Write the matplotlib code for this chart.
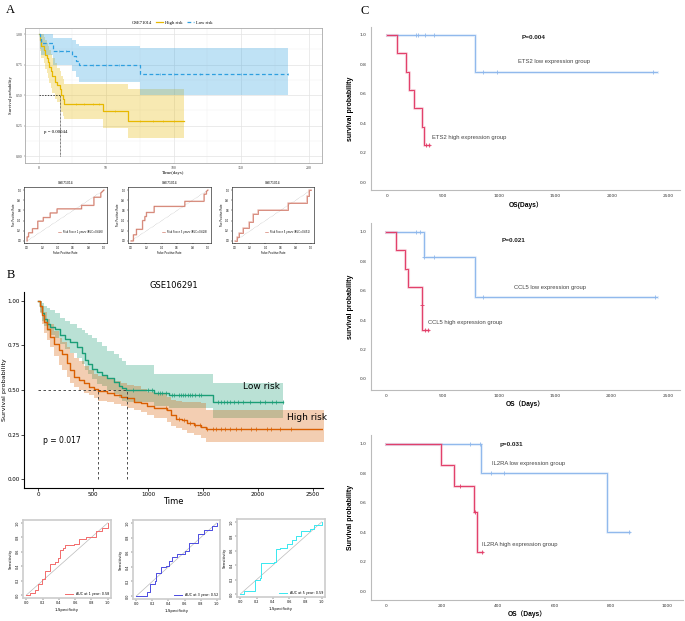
import numpy as np
import matplotlib
matplotlib.use("Agg")
import matplotlib.pyplot as plt
from matplotlib.lines import Line2D

# ---------------- data: panel A (GSE71014) ----------------
a_high_t = [0, 1, 2, 4, 5, 6, 7, 8, 9, 10, 12, 14, 16, 17, 18, 19, 48, 66, 108]
a_high_s = [1.0, 0.95, 0.90, 0.87, 0.83, 0.80, 0.77, 0.73, 0.70, 0.66, 0.61, 0.58, 0.55, 0.50, 0.47, 0.43, 0.37, 0.29, 0.29]
a_high_lo = [1.0, 0.86, 0.80, 0.76, 0.71, 0.68, 0.64, 0.60, 0.56, 0.52, 0.47, 0.44, 0.40, 0.36, 0.33, 0.30, 0.23, 0.15, 0.15]
a_high_hi = [1.0, 1.0, 1.0, 0.98, 0.95, 0.93, 0.90, 0.87, 0.84, 0.80, 0.76, 0.72, 0.70, 0.66, 0.63, 0.59, 0.59, 0.55, 0.55]
a_high_cens = [28, 34, 40, 45, 57, 75, 85, 92, 100]

a_low_t = [0, 1, 2, 11, 25, 28, 30, 75, 185]
a_low_s = [1.0, 0.96, 0.926, 0.86, 0.82, 0.78, 0.75, 0.67, 0.67]
a_low_lo = [1.0, 0.88, 0.83, 0.75, 0.70, 0.65, 0.61, 0.50, 0.50]
a_low_hi = [1.0, 1.0, 1.0, 0.97, 0.95, 0.92, 0.90, 0.885, 0.885]
a_low_cens = [15, 20, 40, 50, 60, 90, 100, 120, 150, 185]
a_median = 16

# ROC curves for GSE71014 (fpr, tpr)
a_roc1_x = [0, 0.0, 0.02, 0.02, 0.07, 0.07, 0.14, 0.14, 0.21, 0.21, 0.30, 0.30, 0.39, 0.39, 0.71, 0.71, 0.87, 0.87, 0.96, 0.96, 1.0]
a_roc1_y = [0, 0.08, 0.08, 0.16, 0.16, 0.24, 0.24, 0.39, 0.39, 0.46, 0.46, 0.55, 0.55, 0.63, 0.63, 0.70, 0.70, 0.86, 0.86, 0.94, 1.0]
a_roc2_x = [0, 0.03, 0.03, 0.07, 0.07, 0.15, 0.15, 0.18, 0.18, 0.20, 0.20, 0.30, 0.30, 0.70, 0.70, 0.95, 0.95, 0.98, 0.98, 1.0]
a_roc2_y = [0, 0.0, 0.12, 0.12, 0.23, 0.23, 0.40, 0.40, 0.48, 0.48, 0.56, 0.56, 0.68, 0.68, 0.78, 0.78, 0.92, 0.92, 0.97, 1.0]
a_roc3_x = [0, 0.02, 0.02, 0.05, 0.05, 0.10, 0.10, 0.18, 0.18, 0.23, 0.23, 0.30, 0.30, 0.70, 0.70, 0.95, 0.95, 0.98, 0.98, 1.0]
a_roc3_y = [0, 0.0, 0.08, 0.08, 0.16, 0.16, 0.26, 0.26, 0.37, 0.37, 0.52, 0.52, 0.61, 0.61, 0.75, 0.75, 0.88, 0.88, 1.0, 1.0]
a_roc_labels = ["Risk Score 1 years (AUC=0.646)", "Risk Score 3 years (AUC=0.628)", "Risk Score 5 years (AUC=0.651)"]

# ---------------- data: panel B (GSE106291) ----------------
b_low_t = [0, 21, 36, 52, 82, 112, 158, 204, 249, 295, 356, 401, 432, 453, 492, 538, 584, 629, 690, 736, 766, 796, 1055, 1192, 1587, 2225]
b_low_s = [1.0, 0.97, 0.93, 0.90, 0.87, 0.856, 0.84, 0.81, 0.785, 0.77, 0.74, 0.71, 0.67, 0.646, 0.62, 0.60, 0.585, 0.566, 0.547, 0.52, 0.51, 0.50, 0.485, 0.472, 0.43, 0.43]
b_low_hi = [1.0, 1.0, 0.99, 0.97, 0.96, 0.95, 0.93, 0.905, 0.89, 0.87, 0.85, 0.835, 0.82, 0.81, 0.79, 0.77, 0.745, 0.72, 0.70, 0.68, 0.66, 0.64, 0.59, 0.59, 0.54, 0.54]
b_low_lo = [1.0, 0.94, 0.89, 0.86, 0.83, 0.81, 0.79, 0.76, 0.73, 0.71, 0.68, 0.645, 0.61, 0.59, 0.56, 0.535, 0.52, 0.50, 0.48, 0.455, 0.44, 0.43, 0.41, 0.40, 0.345, 0.345]
b_low_cens = [862, 1000, 1040, 1090, 1110, 1130, 1160, 1215, 1240, 1280, 1300, 1320, 1340, 1360, 1380,
              1400, 1430, 1460, 1480, 1640, 1660, 1690, 1720, 1750, 1780, 1820, 1860, 1930, 2020, 2060, 2130, 2160, 2225]

b_high_t = [0, 21, 36, 52, 82, 112, 143, 188, 219, 264, 295, 325, 371, 416, 462, 508, 545, 629, 690, 751, 812, 872,
            933, 994, 1055, 1176, 1207, 1252, 1313, 1359, 1420, 1480, 1526, 2605]
b_high_s = [1.0, 0.97, 0.92, 0.88, 0.84, 0.80, 0.76, 0.725, 0.70, 0.65, 0.61, 0.575, 0.556, 0.537, 0.519, 0.504, 0.496,
            0.485, 0.472, 0.463, 0.453, 0.434, 0.425, 0.41, 0.397, 0.388, 0.36, 0.34, 0.33, 0.316, 0.303, 0.29, 0.281, 0.281]
b_high_hi = [1.0, 1.0, 0.97, 0.94, 0.90, 0.87, 0.83, 0.79, 0.77, 0.74, 0.71, 0.68, 0.66, 0.635, 0.61, 0.59, 0.58,
             0.565, 0.55, 0.54, 0.53, 0.52, 0.505, 0.49, 0.475, 0.46, 0.445, 0.44, 0.435, 0.43, 0.43, 0.425, 0.39, 0.39]
b_high_lo = [1.0, 0.93, 0.87, 0.82, 0.78, 0.74, 0.69, 0.64, 0.61, 0.575, 0.54, 0.515, 0.50, 0.485, 0.47, 0.455, 0.44,
             0.43, 0.42, 0.41, 0.40, 0.39, 0.375, 0.36, 0.345, 0.32, 0.30, 0.285, 0.275, 0.26, 0.245, 0.23, 0.21, 0.21]
b_high_cens = [1160, 1280, 1330, 1380, 1430, 1470, 1540, 1590, 1620, 1660, 1700, 1750, 1800, 1850, 1940, 1980, 2080, 2120, 2200, 2300]
b_medians = [545, 812]

b_roc1_x = [0, 0.05, 0.11, 0.15, 0.19, 0.23, 0.29, 0.35, 0.39, 0.42, 0.45, 0.47, 0.59, 0.65, 0.73, 0.85, 0.93, 1.0]
b_roc1_y = [0, 0.03, 0.07, 0.16, 0.23, 0.34, 0.43, 0.46, 0.52, 0.63, 0.65, 0.69, 0.71, 0.78, 0.80, 0.89, 0.93, 1.0]
b_roc2_x = [0, 0.13, 0.17, 0.23, 0.25, 0.31, 0.37, 0.41, 0.45, 0.51, 0.60, 0.66, 0.72, 0.77, 0.84, 0.94, 1.0]
b_roc2_y = [0, 0.055, 0.17, 0.21, 0.31, 0.40, 0.41, 0.48, 0.54, 0.57, 0.62, 0.72, 0.72, 0.85, 0.91, 0.96, 1.0]
b_roc3_x = [0, 0.05, 0.05, 0.18, 0.18, 0.24, 0.26, 0.42, 0.44, 0.49, 0.57, 0.63, 0.69, 0.75, 0.86, 0.90, 1.0]
b_roc3_y = [0, 0.0, 0.05, 0.07, 0.19, 0.23, 0.43, 0.45, 0.62, 0.64, 0.69, 0.75, 0.80, 0.87, 0.90, 0.96, 1.0]
b_roc_labels = ["AUC at 1 year: 0.58", "AUC at 3 year: 0.52", "AUC at 5 year: 0.59"]
b_roc_colors = ["#F26B6B", "#4A4AE0", "#37E8F0"]

# ---------------- data: panel C ----------------
c1_low_t = [0, 779, 2400]
c1_low_s = [1.0, 0.75, 0.75]
c1_low_cens = [259, 279, 338, 421, 853, 979, 2368]
c1_high_t = [0, 88, 168, 197, 241, 309, 332, 371]
c1_high_s = [1.0, 0.875, 0.75, 0.625, 0.5, 0.375, 0.25, 0.25]
c1_high_cens = [347, 371]

c2_low_t = [0, 338, 785, 2400]
c2_low_s = [1.0, 0.833, 0.556, 0.556]
c2_low_cens = [265, 300, 338, 426, 859, 2388]
c2_high_t = [0, 88, 168, 197, 315, 323, 374]
c2_high_s = [1.0, 0.875, 0.75, 0.625, 0.5, 0.333, 0.333]
c2_high_cens = [318, 344, 374]

c3_low_t = [0, 339, 787, 865]
c3_low_s = [1.0, 0.8, 0.4, 0.4]
c3_low_cens = [300, 335, 374, 421, 865]
c3_high_t = [0, 196, 244, 315, 324, 342]
c3_high_s = [1.0, 0.857, 0.714, 0.536, 0.268, 0.268]
c3_high_cens = [265, 318, 342]

W, H = 685, 621
fig = plt.figure(figsize=(W / 100, H / 100), dpi=100)


def px_axes(left, top, right, bottom):
    return fig.add_axes([left / W, 1 - bottom / H, (right - left) / W, (bottom - top) / H])


def surv_at(t, s, c):
    idx = np.searchsorted(np.array(t), np.array(c), side="right") - 1
    return np.array(s)[idx]


SERIF = "Liberation Serif"
SANS = "Liberation Sans"

# ================= Panel A =================
fig.text(6 / W, 1 - 13 / H, "A", fontsize=9, family=SERIF)
ax = px_axes(25, 28, 322, 163)
yel, blu = "#E7B800", "#2E9FDF"
ax.fill_between(a_high_t, a_high_lo, a_high_hi, step="post", color=yel, alpha=0.3, lw=0)
ax.fill_between(a_low_t, a_low_lo, a_low_hi, step="post", color=blu, alpha=0.3, lw=0)
ax.step(a_high_t, a_high_s, where="post", color=yel, lw=0.9)
ax.step(a_low_t, a_low_s, where="post", color=blu, lw=0.9, ls=(0, (3, 2)))
ax.plot(a_high_cens, surv_at(a_high_t, a_high_s, a_high_cens), "|", color=yel, ms=2, mew=0.4)
ax.plot(a_low_cens, surv_at(a_low_t, a_low_s, a_low_cens), "|", color=blu, ms=2, mew=0.4)
ax.plot([0, a_median], [0.5, 0.5], color="black", lw=0.5, ls=(0, (2, 2)))
ax.plot([a_median, a_median], [0, 0.5], color="black", lw=0.5, ls=(0, (1, 1)))
ax.text(4, 0.19, "p = 0.00044", fontsize=3.5, family=SERIF)
ax.set_xlim(-10, 210)
ax.set_ylim(-0.057, 1.05)
ax.set_xticks([0, 50, 100, 150, 200])
ax.set_yticks([0, 0.25, 0.5, 0.75, 1.0])
ax.set_yticklabels(["0.00", "0.25", "0.50", "0.75", "1.00"])
ax.set_xticks([25, 75, 125, 175], minor=True)
ax.set_yticks([0.125, 0.375, 0.625, 0.875], minor=True)
ax.grid(True, which="major", color="#e3e3e3", lw=0.5)
ax.grid(True, which="minor", color="#f0f0f0", lw=0.3)
ax.tick_params(labelsize=2.8, length=1, width=0.3, colors="#444444", pad=1)
ax.tick_params(which="minor", length=0)
for lab in ax.get_xticklabels() + ax.get_yticklabels():
    lab.set_family(SERIF)
for sp in ax.spines.values():
    sp.set_color("#aaaaaa")
    sp.set_linewidth(0.6)
ax.set_axisbelow(True)
ax.set_xlabel("Time(days)", fontsize=3.5, family=SERIF, labelpad=1)
ax.set_ylabel("Survival probability", fontsize=3.3, family=SERIF, labelpad=2)
handles = [Line2D([], [], color="none"),
           Line2D([], [], color=yel, lw=0.9),
           Line2D([], [], color=blu, lw=0.9, ls=(0, (3, 2)))]
ax.legend(handles, ["GSE71014", "High risk", "Low risk"], loc="lower center", bbox_to_anchor=(0.48, 1.0),
          ncol=3, frameon=False, prop={"family": SERIF, "size": 3.3}, handlelength=1.5,
          handletextpad=0.4, columnspacing=1.0, borderaxespad=0.3)

# panel A ROC
roc_a = [(a_roc1_x, a_roc1_y), (a_roc2_x, a_roc2_y), (a_roc3_x, a_roc3_y)]
boxes_a = [(24, 187, 107, 243), (128, 187, 211, 243), (232, 187, 314, 243)]
for (xs, ys), box, lab in zip(roc_a, boxes_a, a_roc_labels):
    ax = px_axes(*box)
    ax.plot([0, 1], [0, 1], color="#aaaaaa", lw=0.4, ls=(0, (1, 1.5)))
    ax.plot(xs, ys, color="#D98C7C", lw=1.2, alpha=0.5)
    ax.plot(xs, ys, color="#C8604C", lw=0.4, label=lab)
    ax.set_xlim(-0.04, 1.04)
    ax.set_ylim(-0.04, 1.06)
    ax.set_xticks(np.arange(0, 1.01, 0.2))
    ax.set_yticks(np.arange(0, 1.01, 0.2))
    ax.tick_params(labelsize=1.8, length=1, width=0.3, pad=1)
    for sp in ax.spines.values():
        sp.set_linewidth(0.4)
    ax.set_title("GSE71014", fontsize=2.2, pad=2)
    ax.set_xlabel("False Positive Rate", fontsize=1.9, labelpad=1)
    ax.set_ylabel("True Positive Rate", fontsize=1.9, labelpad=1)
    ax.legend(loc="lower right", bbox_to_anchor=(0.98, 0.12), fontsize=1.8, frameon=False,
              handlelength=1.2)

# ================= Panel B =================
fig.text(7 / W, 1 - 278 / H, "B", fontsize=9, family=SERIF)
ax = px_axes(24, 292, 323, 488)
teal, orng = "#1B9E77", "#D95F02"
ax.fill_between(b_low_t, b_low_lo, b_low_hi, step="post", color=teal, alpha=0.3, lw=0)
ax.fill_between(b_high_t, b_high_lo, b_high_hi, step="post", color=orng, alpha=0.3, lw=0)
ax.step(b_low_t, b_low_s, where="post", color=teal, lw=1)
ax.step(b_high_t, b_high_s, where="post", color=orng, lw=1)
ax.plot(b_low_cens, surv_at(b_low_t, b_low_s, b_low_cens), "|", color=teal, ms=3, mew=0.5)
ax.plot(b_high_cens, surv_at(b_high_t, b_high_s, b_high_cens), "|", color=orng, ms=3, mew=0.5)
ax.plot([0, max(b_medians)], [0.5, 0.5], color="#333333", lw=0.6, ls=(0, (3, 3)))
for m in b_medians:
    ax.plot([m, m], [0, 0.5], color="#333333", lw=0.6, ls=(0, (3, 3)))
ax.text(50, 0.2, "p = 0.017", fontsize=5.5)
ax.text(2030, 0.495, "Low risk", fontsize=6.5, ha="center", va="bottom")
ax.text(2450, 0.32, "High risk", fontsize=6.5, ha="center", va="bottom")
ax.set_xlim(-127, 2591)
ax.set_ylim(-0.05, 1.05)
ax.set_xticks([0, 500, 1000, 1500, 2000, 2500])
ax.set_yticks([0, 0.25, 0.5, 0.75, 1.0])
ax.set_yticklabels(["0.00", "0.25", "0.50", "0.75", "1.00"])
ax.tick_params(labelsize=4.1, length=2, width=0.5, pad=1.2)
ax.spines[["top", "right"]].set_visible(False)
ax.set_title("GSE106291", fontsize=6, pad=3)
ax.set_xlabel("Time", fontsize=6, labelpad=0)
ax.set_ylabel("Survival probability", fontsize=4.6, va="center")
ax.yaxis.set_label_coords((4.5 - 24) / 299, 0.5)

roc_b = [(b_roc1_x, b_roc1_y), (b_roc2_x, b_roc2_y), (b_roc3_x, b_roc3_y)]
boxes_b = [(23, 520, 111, 598), (133, 520, 220, 599), (237, 519, 325, 597)]
for (xs, ys), box, lab, col in zip(roc_b, boxes_b, b_roc_labels, b_roc_colors):
    ax = px_axes(*box)
    ax.plot([0, 1], [0, 1], color="#bbbbbb", lw=0.5)
    ax.step(xs, ys, where="post", color=col, lw=0.7, label=lab)
    ax.set_xlim(-0.04, 1.04)
    ax.set_ylim(-0.04, 1.04)
    ax.set_xticks(np.arange(0, 1.01, 0.2))
    ax.set_yticks(np.arange(0, 1.01, 0.2))
    ax.tick_params(labelsize=2.4, length=1.2, width=0.3, pad=1)
    for lab_t in ax.get_yticklabels():
        lab_t.set_rotation(90)
        lab_t.set_va("center")
    for sp in ax.spines.values():
        sp.set_color("#cccccc")
        sp.set_linewidth(1.2)
    ax.set_xlabel("1-Specificity", fontsize=2.8, labelpad=2)
    ax.set_ylabel("Sensitivity", fontsize=2.8, labelpad=2)
    ax.legend(loc="lower right", fontsize=2.4, frameon=False, handlelength=2.5, borderaxespad=0.2)

# ================= Panel C =================
fig.text(361 / W, 1 - 14 / H, "C", fontsize=9, family=SERIF)
red, lblue = "#E23D68", "#8FB8EC"
CJK = [SANS, "Noto Sans CJK SC"]


def spss_km(box, xlim, ylim, xticks, low, high, texts, ylabel, xlabel, xlab_top):
    ax = px_axes(*box)
    for (t, s, cens), col in ((low, lblue), (high, red)):
        ax.step(t, s, where="post", color=col, lw=2.2, alpha=0.25)
        ax.step(t, s, where="post", color=col, lw=0.7)
        ax.plot(cens, surv_at(t, s, cens), "+", color=col, ms=3, mew=0.6)
    for x, y, txt, bold in texts:
        ax.text(x, y, txt, fontsize=4.6 if bold else 4.2, fontweight="bold" if bold else "normal",
                family=SANS, va="center", color="#222222" if bold else "#444444")
    ax.set_xlim(*xlim)
    ax.set_ylim(*ylim)
    ax.set_xticks(xticks)
    ax.set_yticks(np.arange(0, 1.01, 0.2))
    ax.set_yticklabels([f"{v:.1f}" for v in np.arange(0, 1.01, 0.2)])
    ax.tick_params(labelsize=3.2, length=0, pad=3, colors="#333333")
    ax.spines[["top", "right"]].set_visible(False)
    for sp in ("left", "bottom"):
        ax.spines[sp].set_color("#bbbbbb")
        ax.spines[sp].set_linewidth(0.8)
    ax.set_ylabel(ylabel, fontsize=5, fontweight="bold", family=SANS, labelpad=4)
    ax.set_xlabel(xlabel, fontsize=4.8, fontweight="bold", family=CJK)
    height = box[3] - box[1]
    ax.xaxis.set_label_coords(0.5, (box[3] - xlab_top) / height)
    return ax


spss_km((371, 27, 680, 190), (-142, 2607), (-0.054, 1.054), [0, 500, 1000, 1500, 2000, 2500],
        (c1_low_t, c1_low_s, c1_low_cens), (c1_high_t, c1_high_s, c1_high_cens),
        [(1200, 0.985, "P=0.004", True), (1162, 0.82, "ETS2 low expression group", False),
         (397, 0.306, "ETS2 high expression group", False)],
        "survival probability", "OS(Days\uff09", 201)
spss_km((371, 223, 680, 390), (-133, 2606), (-0.075, 1.061), [0, 500, 1000, 1500, 2000, 2500],
        (c2_low_t, c2_low_s, c2_low_cens), (c2_high_t, c2_high_s, c2_high_cens),
        [(1024, 0.94, "P=0.021", True), (1132, 0.625, "CCL5 low expression group", False),
         (374, 0.384, "CCL5 high expression group", False)],
        "survival probability", "OS\uff08Days\uff09", 400)
spss_km((371, 435, 683, 600), (-53, 1057), (-0.061, 1.061), [0, 200, 400, 600, 800, 1000],
        (c3_low_t, c3_low_s, c3_low_cens), (c3_high_t, c3_high_s, c3_high_cens),
        [(403, 0.995, "p=0.031", True), (378, 0.866, "IL2RA low expression group", False),
         (342, 0.314, "IL2RA high expression group", False)],
        "Survival probability", "OS\uff08Days\uff09", 610)

fig.savefig("out.png", dpi=100)
